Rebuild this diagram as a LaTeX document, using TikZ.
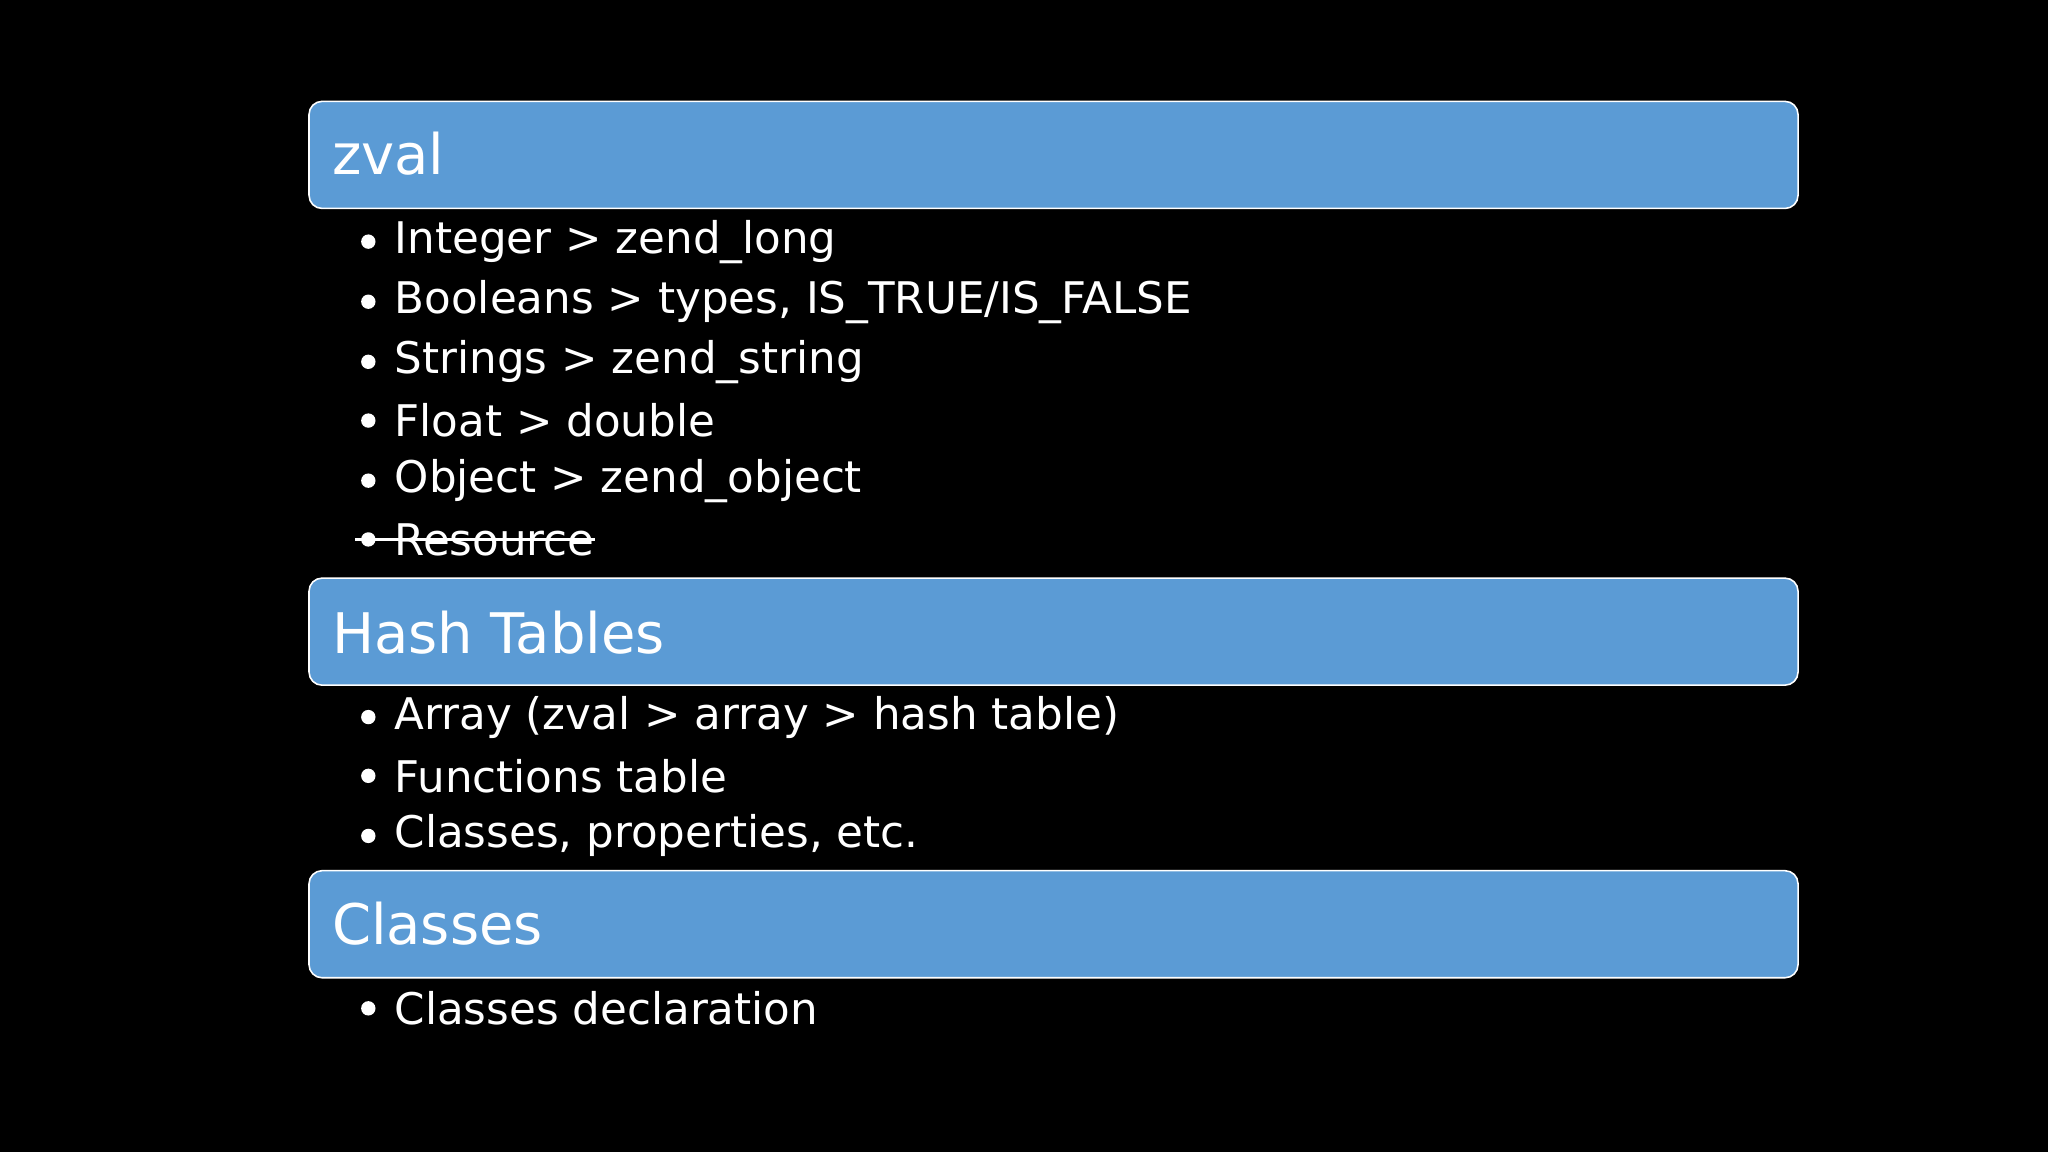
\documentclass[tikz,border=0pt]{standalone}
\usepackage{fontspec}
\setmainfont{DejaVu Sans}
\begin{document}
\begin{tikzpicture}[x=1bp,y=-1bp,
  hbox/.style={draw=white,line width=1.2bp,fill={rgb,255:red,91;green,155;blue,213},rounded corners=10bp,minimum width=1140bp,minimum height=82bp,anchor=north west,inner sep=0pt},
  htext/.style={anchor=west,text=white,font=\fontsize{43}{50}\selectfont,inner sep=0pt},
  item/.style={anchor=west,text=white,font=\fontsize{33.5}{40}\selectfont,inner sep=0pt},
  dot/.style={circle,fill=white,inner sep=0pt,minimum size=11bp}]
\fill[black] (0,0) rectangle (1568,882);
\useasboundingbox (0,0) rectangle (1568,882);
\node[hbox] (b1) at (236,77) {};
\node[htext] (t1) at (254,118) {zval};
\node[hbox] (b2) at (236,442) {};
\node[htext] (t2) at (254,484) {Hash Tables};
\node[hbox] (b3) at (236,666) {};
\node[htext] (t3) at (254,707) {Classes};
\foreach \n/\y/\t in {a/185/{Integer > zend\_long},b/231/{Booleans > types, IS\_TRUE/IS\_FALSE},c/277/{Strings > zend\_string},d/322/{Float > double},e/368/{Object > zend\_object},f/413/{Resource},g/549/{Array (zval > array > hash table)},h/594/{Functions table},i/640/{Classes, properties, etc.},j/772/{Classes declaration}}{
  \node[dot] (d\n) at (282,\y) {};
  \node[item] (i\n) at (302,\y) {\t};
}
\draw[white,line width=2bp] (272,413) -- (if.east);
\end{tikzpicture}
\end{document}
